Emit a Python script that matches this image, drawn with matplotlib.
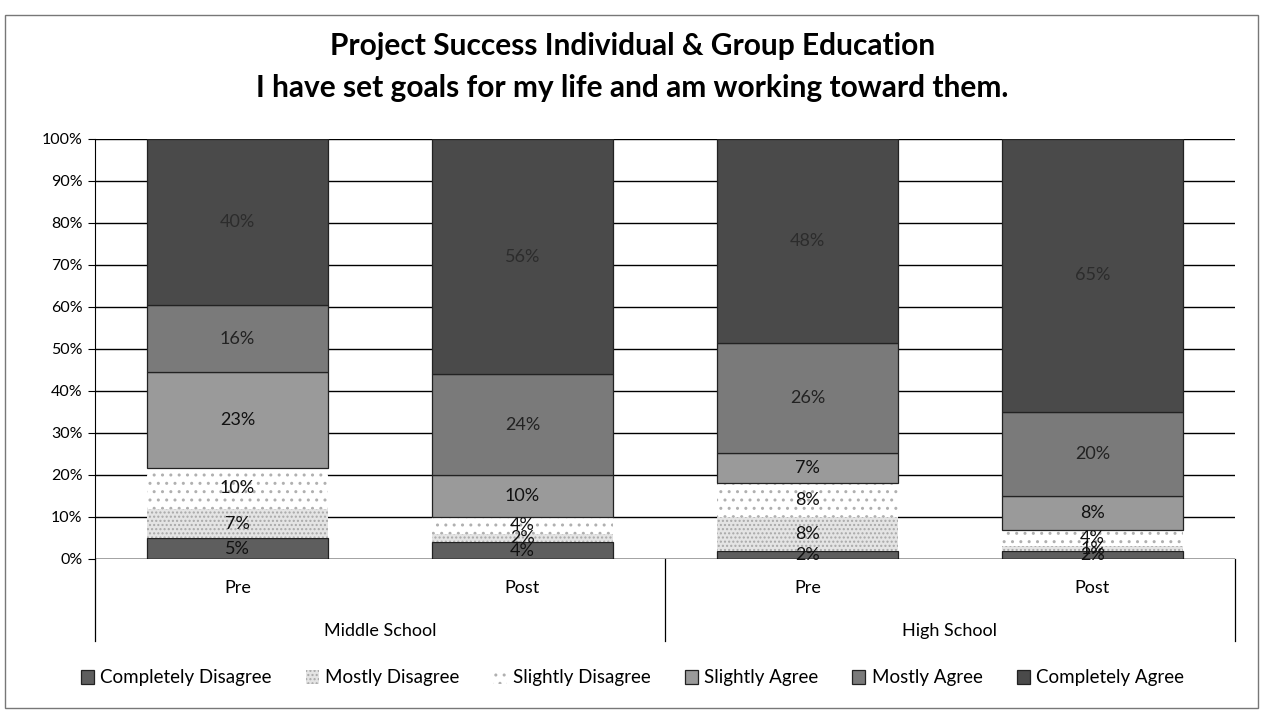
import numpy as np
import matplotlib.pyplot as plt
from matplotlib.patches import Rectangle
from matplotlib.transforms import blended_transform_factory

plt.rcParams['font.family'] = ['Lato', 'DejaVu Sans']

# survey responses (percent of students)
groups = ["Middle School", "High School"]
phases = ["Pre", "Post", "Pre", "Post"]
responses = ["Completely Disagree", "Mostly Disagree", "Slightly Disagree",
             "Slightly Agree", "Mostly Agree", "Completely Agree"]
completely_disagree = [5, 4, 2, 2]
mostly_disagree = [7, 2, 8, 1]
slightly_disagree = [10, 4, 8, 4]
slightly_agree = [23, 10, 7, 8]
mostly_agree = [16, 24, 26, 20]
completely_agree = [40, 56, 48, 65]

series = [completely_disagree, mostly_disagree, slightly_disagree,
          slightly_agree, mostly_agree, completely_agree]

fills = ["#5e5e5e", "#e4e4e4", "#ffffff", "#9a9a9a", "#7a7a7a", "#4a4a4a"]
hatches = [None, "....", "..", None, None, None]
hatch_cols = ["#222222", "#a8a8a8", "#b0b0b0", "#222222", "#222222", "#222222"]
text_cols = ["#111111", "#111111", "#111111", "#111111", "#222222", "#2c2c2c"]

# 100% stacked: each column scaled to its own total
totals = np.sum(np.array(series, dtype=float), axis=0)

fig = plt.figure(figsize=(12.65, 7.13), dpi=100)
W, H = 1265, 713
ax = fig.add_axes([95 / W, (H - 559) / H, 1140 / W, 420 / H])

x = np.arange(len(phases))
bottom = np.zeros(len(phases))
handles = []
for vals, name, fc, hc, ec, tc in zip(series, responses, fills, hatches,
                                      hatch_cols, text_cols):
    vals = np.array(vals, dtype=float)
    heights = vals / totals * 100
    bars = ax.bar(x, heights, bottom=bottom, width=0.635, color=fc,
                  hatch=hc, edgecolor=ec, linewidth=0.9 if hc is None else 0,
                  label=name, zorder=3)
    handles.append(bars)
    for xi, b, h, v in zip(x, bottom, heights, vals):
        ax.text(xi, b + h / 2, f"{int(v)}%", ha="center", va="center",
                fontsize=13, color=tc, zorder=4)
    bottom += heights

ax.set_xlim(-0.5, 3.5)
ax.set_ylim(0, 100)
ax.set_yticks(np.arange(0, 101, 10))
ax.set_yticklabels([f"{t}%" for t in range(0, 101, 10)], fontsize=11.5)
ax.tick_params(axis="y", length=5, width=0.8, pad=4)
ax.set_xticks([])
ax.grid(axis="y", color="black", linewidth=1.0, zorder=0)
for side in ["top", "right", "bottom"]:
    ax.spines[side].set_visible(False)
ax.spines["left"].set_linewidth(0.8)
ax.axhline(0, color="black", linewidth=1.0, zorder=5)

# two-level category axis below the plot
tr = blended_transform_factory(ax.transData, fig.transFigure)
for xi, p in zip(x, phases):
    ax.text(xi, (H - 588) / H, p, transform=tr, ha="center", va="center",
            fontsize=13)
for gi, g in enumerate(groups):
    ax.text(gi * 2 + 0.5, (H - 631) / H, g, transform=tr, ha="center",
            va="center", fontsize=13)
for xs in [-0.5, 1.5, 3.5]:
    ax.plot([xs, xs], [(H - 559) / H, (H - 641) / H], transform=tr,
            color="black", linewidth=0.9, clip_on=False)

fig.text(0.5, (H - 46) / H, "Project Success Individual & Group Education",
         ha="center", va="center", fontsize=21.5, fontweight="bold")
fig.text(0.5, (H - 88) / H,
         "I have set goals for my life and am working toward them.",
         ha="center", va="center", fontsize=21.5, fontweight="bold")

fig.legend(handles=handles, labels=responses, loc="center",
           bbox_to_anchor=(0.5, (H - 678) / H), ncol=6, frameon=False,
           fontsize=13.5, handlelength=0.7, handleheight=0.7,
           handletextpad=0.35, columnspacing=1.8)

# chart border
fig.patches.append(Rectangle((5 / W, 5 / H), 1253 / W, 693 / H,
                             transform=fig.transFigure, fill=False,
                             edgecolor="#777777", linewidth=1.0))

fig.savefig("out.png", dpi=100)
